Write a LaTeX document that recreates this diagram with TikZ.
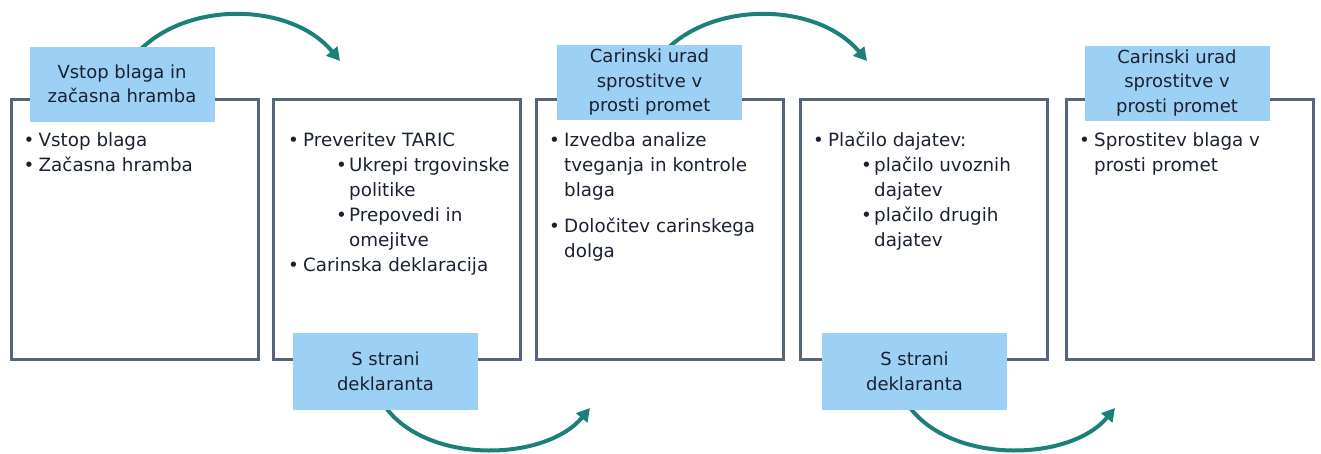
\documentclass[tikz,border=0pt]{standalone}
\usepackage{fontspec}
\setmainfont{DejaVu Sans}
\usetikzlibrary{arrows.meta}
\definecolor{boxline}{HTML}{56657A}
\definecolor{labfill}{HTML}{9DD0F5}
\definecolor{arrowc}{HTML}{1B8078}
\definecolor{txt}{HTML}{1A2130}
\newcommand{\bul}{\makebox[15pt][l]{\textbullet}}
\newcommand{\ind}{\hspace*{15pt}}
\newcommand{\sbul}{\hspace*{48pt}\makebox[13pt][l]{\textbullet}}
\newcommand{\sind}{\hspace*{61pt}}
\tikzset{
  mainbox/.style={draw=boxline, line width=3pt, minimum width=247pt, minimum height=260pt, inner sep=0pt},
  labbox/.style={fill=labfill, minimum width=185pt, minimum height=75pt, align=center, inner sep=0pt, text=txt, font=\fontsize{18}{24.5}\selectfont},
  bodytext/.style={anchor=north west, align=left, inner sep=0pt, text=txt, font=\fontsize{18.3}{25}\selectfont},
  flow/.style={draw=arrowc, line width=4pt, -{Triangle[length=13pt,width=14pt]}}
}
\begin{document}
\begin{tikzpicture}[x=1pt,y=-1pt]
\useasboundingbox (0,0) rectangle (1321,453);
% main boxes
\node[mainbox] (b1) at (134.5,229.5) {};
\node[mainbox] (b2) at (397,229.5) {};
\node[mainbox] (b3) at (660,229.5) {};
\node[mainbox] (b4) at (924,229.5) {};
\node[mainbox] (b5) at (1190,229.5) {};
% arrows (drawn before labels so labels cover their starts)
\coordinate (t1s) at (140,50);
\coordinate (t1e) at (340,61);
\coordinate (t2s) at (666,50);
\coordinate (t2e) at (867,61);
\coordinate (u1s) at (384,405);
\coordinate (u1e) at (590,408);
\coordinate (u2s) at (908,405);
\coordinate (u2e) at (1115,408);
\draw[flow] (t1s) .. controls (190,0) and (292,3) .. (t1e);
\draw[flow] (t2s) .. controls (716,0) and (818,3) .. (t2e);
\draw[flow] (u1s) .. controls (425,465) and (545,462) .. (u1e);
\draw[flow] (u2s) .. controls (950,465) and (1070,462) .. (u2e);
% labels
\node[labbox] (l1) at (122,84) {Vstop blaga in\\za\v{c}asna hramba};
\node[labbox, minimum height=77pt] (l2) at (385.5,371.5) {S strani\\deklaranta};
\node[labbox] (l3) at (649.5,82.5) {Carinski urad\\sprostitve v\\prosti promet};
\node[labbox, minimum height=77pt] (l4) at (914.5,371.5) {S strani\\deklaranta};
\node[labbox] (l5) at (1177,83) {Carinski urad\\sprostitve v\\prosti promet};
% body texts
\node[bodytext] (x1) at ([xshift=14pt,yshift=-34pt]b1.north west)
  {\bul Vstop blaga\\\bul Za\v{c}asna hramba};
\node[bodytext] (x2) at ([xshift=16pt,yshift=-34pt]b2.north west)
  {\bul Preveritev TARIC\\\sbul Ukrepi trgovinske\\\sind politike\\\sbul Prepovedi in\\\sind omejitve\\\bul Carinska deklaracija};
\node[bodytext] (x3) at ([xshift=14pt,yshift=-34pt]b3.north west)
  {\bul Izvedba analize\\\ind tveganja in kontrole\\\ind blaga\\[11pt]\bul Dolo\v{c}itev carinskega\\\ind dolga};
\node[bodytext] (x4) at ([xshift=14pt,yshift=-34pt]b4.north west)
  {\bul Pla\v{c}ilo dajatev:\\\sbul pla\v{c}ilo uvoznih\\\sind dajatev\\\sbul pla\v{c}ilo drugih\\\sind dajatev};
\node[bodytext] (x5) at ([xshift=14pt,yshift=-34pt]b5.north west)
  {\bul Sprostitev blaga v\\\ind prosti promet};
\end{tikzpicture}
\end{document}
